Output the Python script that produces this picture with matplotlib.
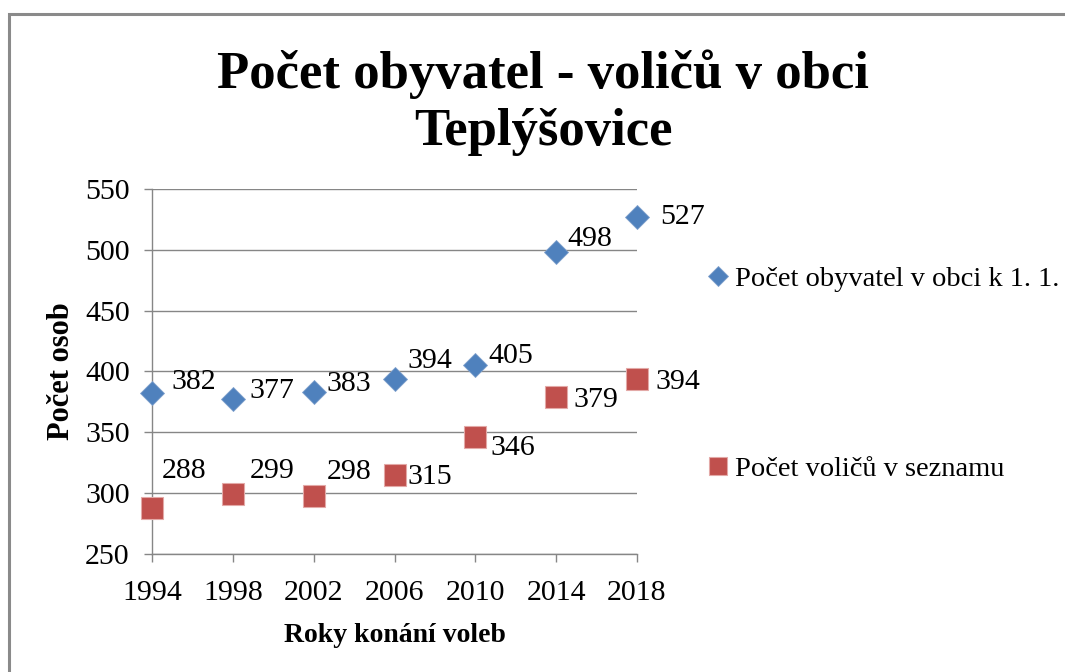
import matplotlib
matplotlib.use('Agg')
import matplotlib.pyplot as plt
from matplotlib.patches import Rectangle

plt.rcParams['font.family'] = ['Liberation Serif', 'DejaVu Serif']

# data
roky = [1994, 1998, 2002, 2006, 2010, 2014, 2018]
obyvatel = [382, 377, 383, 394, 405, 498, 527]
volicu = [288, 299, 298, 315, 346, 379, 394]

nazev_obyv = 'Počet obyvatel v obci k 1. 1.'
nazev_vol = 'Počet voličů v seznamu'

# label offsets in pixels (dx, dy) - Excel put them a bit irregularly
posun_obyv = [(19, 11), (17, 8), (13, 8), (13, 18), (13, 9), (11, 13), (23, 0)]
posun_vol = [(10, 37), (17, 23), (13, 24), (13, -2), (15, -11), (17, -3), (18, -3)]

modra = '#4F81BD'
cervena = '#C0504D'
seda = '#868686'

fig = plt.figure(figsize=(10.65, 6.72), dpi=100)
ax = fig.add_axes([152 / 1065, 1 - 554 / 672, 485 / 1065, 365 / 672])

ax.plot(roky, obyvatel, linestyle='none', marker='D', markersize=12.5,
        color=modra, markeredgecolor='#7FA0CC', markeredgewidth=0.6,
        label=nazev_obyv, zorder=3, clip_on=False)
ax.plot(roky, volicu, linestyle='none', marker='s', markersize=16,
        color=cervena, markeredgecolor='#E3A9A7', markeredgewidth=0.8,
        label=nazev_vol, zorder=3, clip_on=False)

for x, y, (dx, dy) in zip(roky, obyvatel, posun_obyv):
    ax.annotate(str(y), (x, y), xytext=(dx, dy), textcoords='offset pixels',
                ha='left', va='center', fontsize=21.5)
for x, y, (dx, dy) in zip(roky, volicu, posun_vol):
    ax.annotate(str(y), (x, y), xytext=(dx, dy), textcoords='offset pixels',
                ha='left', va='center', fontsize=21.5)

ax.set_xlim(1994, 2018)
ax.set_ylim(250, 550)
ax.set_xticks(roky)
ax.set_yticks(range(250, 551, 50))
ax.grid(axis='y', color=seda, linewidth=1.0)
ax.set_axisbelow(True)

for s in ['top', 'right']:
    ax.spines[s].set_visible(False)
for s in ['left', 'bottom']:
    ax.spines[s].set_color(seda)
    ax.spines[s].set_linewidth(1.0)
ax.tick_params(axis='both', colors=seda, labelcolor='black', labelsize=21.5,
               length=6, width=1.0)
ax.tick_params(axis='y', pad=10)
ax.tick_params(axis='x', pad=13)

ax.set_xlabel('Roky konání voleb', fontsize=20, fontweight='bold')
ax.set_ylabel('Počet osob', fontsize=22, fontweight='bold')
ax.xaxis.set_label_coords(0.5, -0.223)
ax.xaxis.label.set_verticalalignment('center')
ax.yaxis.set_label_coords(-0.187, 0.5)
ax.yaxis.label.set_verticalalignment('center')

fig.text(0.51, 1 - 88 / 672, 'Počet obyvatel - voličů v obci', ha='center',
         va='baseline', fontsize=38, fontweight='bold')
fig.text(0.51, 1 - 145 / 672, 'Teplýšovice', ha='center',
         va='baseline', fontsize=38, fontweight='bold')

fig.legend(loc='center left', bbox_to_anchor=(708 / 1065, 1 - 374 / 672),
           frameon=False, fontsize=20.5, handlelength=0.7, handletextpad=0.25,
           labelspacing=5.75, borderpad=0, borderaxespad=0, markerscale=0.8)

# grey frame of the chart area (only top and left edge are visible)
fig.patches.append(Rectangle((8.5 / 1065, -0.1), 1.2, 1.1 - 13.5 / 672,
                             transform=fig.transFigure, fill=False,
                             edgecolor='#8a8a8a', linewidth=2.2))

fig.savefig('out.png', dpi=100)
